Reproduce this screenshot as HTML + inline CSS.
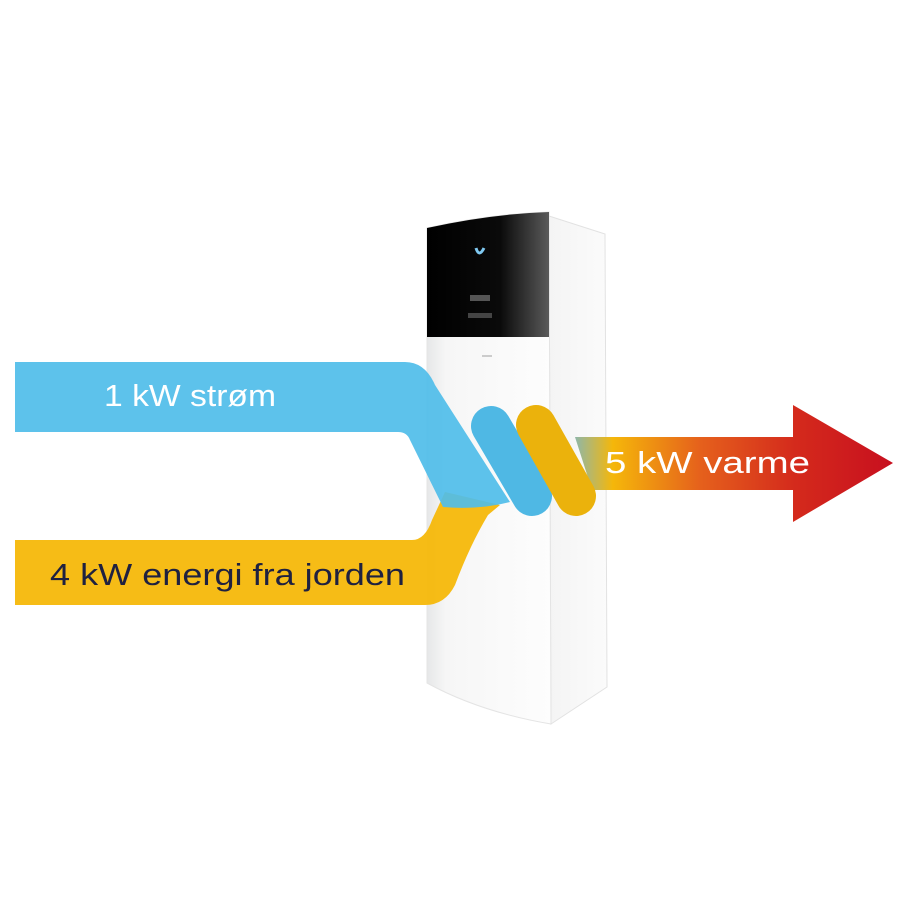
<!DOCTYPE html>
<html><head><meta charset="utf-8"><style>
html,body{margin:0;padding:0;background:#fff;width:900px;height:900px;overflow:hidden}
svg text{font-family:"Liberation Sans",sans-serif}
</style></head><body>
<svg width="900" height="900" viewBox="0 0 900 900" xmlns="http://www.w3.org/2000/svg">
<defs>
<linearGradient id="front" x1="0" y1="0" x2="1" y2="0">
<stop offset="0" stop-color="#e6e7e8"/><stop offset="0.15" stop-color="#f6f6f6"/><stop offset="1" stop-color="#fdfdfd"/>
</linearGradient>
<linearGradient id="side" x1="0" y1="0" x2="1" y2="0">
<stop offset="0" stop-color="#f4f4f4"/><stop offset="1" stop-color="#fbfbfb"/>
</linearGradient>
<linearGradient id="black" x1="0" y1="0" x2="1" y2="0">
<stop offset="0" stop-color="#000"/><stop offset="0.6" stop-color="#0a0a0a"/><stop offset="1" stop-color="#5a5a5a"/>
</linearGradient>
<linearGradient id="arrow" x1="575" y1="0" x2="890" y2="0" gradientUnits="userSpaceOnUse">
<stop offset="0" stop-color="#8fb7a8"/><stop offset="0.12" stop-color="#f5b70a"/><stop offset="0.4" stop-color="#e5601c"/><stop offset="0.7" stop-color="#d42a1c"/><stop offset="1" stop-color="#c8101f"/>
</linearGradient>
</defs>
<!-- device -->
<path d="M549 216 L605 234 L607 687 L551 724 Z" fill="url(#side)" stroke="#e2e2e2" stroke-width="1"/>
<path d="M427 228 Q490 214 549 212 L551 724 Q480 712 427 683 Z" fill="url(#front)" stroke="#e4e4e4" stroke-width="1"/>
<path d="M427 228 Q490 214 549 212 L549 337 L427 337 Z" fill="url(#black)"/>
<path d="M476 248 Q479 258 484 248" stroke="#7fc8f0" stroke-width="3" fill="none"/>
<rect x="470" y="295" width="20" height="6" fill="#555"/>
<rect x="468" y="313" width="24" height="5" fill="#444"/>
<rect x="482" y="355" width="10" height="2" fill="#ccc"/>
<!-- yellow band -->
<path d="M15 540 L412 540 Q425 540 432 520 L445 492 L500 505 L488 515 Q470 545 455 585 Q445 605 425 605 L15 605 Z" fill="#f6b80a" fill-opacity="0.95"/>
<!-- blue band -->
<path d="M15 362 L405 362 Q425 362 435 385 L510 502 Q480 510 443 507 L410 440 Q407 432 398 432 L15 432 Z" fill="#4fbde9" fill-opacity="0.92"/>
<!-- arrow -->
<path d="M575 437 L793 437 L793 405 L893 463 L793 522 L793 490 L592 490 Z" fill="url(#arrow)"/>
<!-- pills -->
<line x1="491" y1="426" x2="532" y2="496" stroke="#4fb8e4" stroke-width="40" stroke-linecap="round"/>
<line x1="536" y1="425" x2="576" y2="496" stroke="#ebb20c" stroke-width="40" stroke-linecap="round"/>
<!-- texts -->
<text x="104" y="406" font-size="31" fill="#fff" textLength="172" lengthAdjust="spacingAndGlyphs">1 kW strøm</text>
<text x="605" y="473" font-size="31" fill="#fff" textLength="205" lengthAdjust="spacingAndGlyphs">5 kW varme</text>
<text x="50" y="585" font-size="31" fill="#1f2140" textLength="355" lengthAdjust="spacingAndGlyphs">4 kW energi fra jorden</text>
</svg>
</body></html>
